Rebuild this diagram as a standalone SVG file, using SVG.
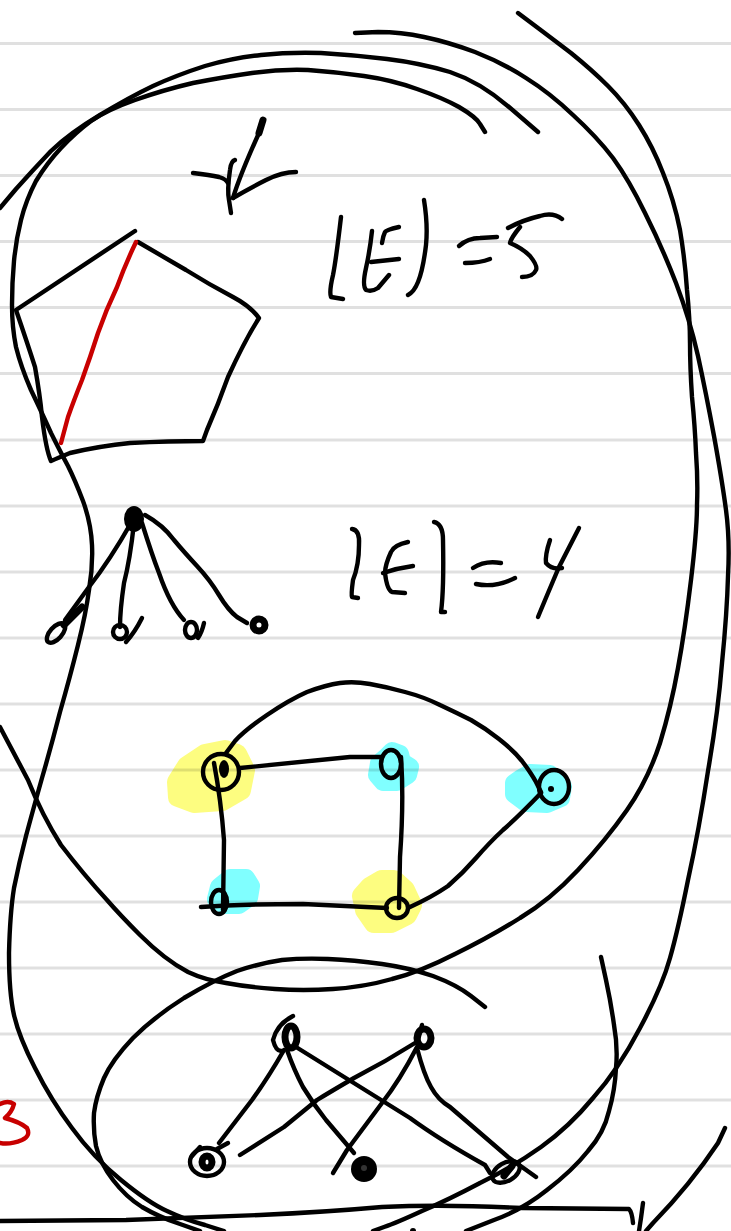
<svg xmlns="http://www.w3.org/2000/svg" width="731" height="1231" viewBox="0 0 731 1231">
<style>
.s{fill:none;stroke:#000;stroke-width:4.4;stroke-linecap:round;stroke-linejoin:round}
.t{stroke-width:7}
.r{fill:none;stroke:#c80000;stroke-width:4.4;stroke-linecap:round;stroke-linejoin:round}
.y{fill:#fdfd80;stroke:#fdfd80;stroke-width:20;stroke-linejoin:round}
.c{fill:#80ffff;stroke:#80ffff;stroke-width:18;stroke-linejoin:round}
.f{fill:#000}
.rule{stroke:#000;stroke-opacity:.12;stroke-width:3}
</style>
<rect width="731" height="1231" fill="#fff"/>
<g id="highlights">
<polygon class="y" points="225,750 237,754 245,770 241,790 222,801 194,803 178,797 177,782 187,766 205,754"/>
<polygon class="c" points="392,751 400,754 402,762 410,767 408,775 397,782 383,782 377,775 379,763 386,757"/>
<polygon class="c" points="530,773 550,774 563,786 561,798 547,804 526,803 514,794 514,783 521,778"/>
<polygon class="c" points="230,878 246,878 251,886 249,898 239,905 224,905 216,899 219,887"/>
<polygon class="y" points="382,880 394,880 405,890 412,905 407,915 391,923 374,923 365,910 362,896 370,887"/>
</g>
<g id="rules">
<path class="rule" d="M0 43.5H731M0 109.5H731M0 175.5H731M0 241.5H731M0 307.5H731M0 373.5H731M0 440H731M0 506H731M0 572H731M0 638H731M0 704H731M0 770H731M0 836H731M0 902H731M0 968H731M0 1034H731M0 1100H731M0 1166H731"/>
</g>
<g id="blobs">
<path class="s" d="M538 132 L509 107 Q480 82 450 72 Q420 63 387 59 Q354 55 321 53 Q289 52 261 55 Q233 58 205 66 Q177 75 153 86 Q130 97 100 115 Q70 133 51 151 Q33 170 16 189 L0 208"/>
<path class="s" d="M485 132 L480 124 Q476 117 459 107 Q443 98 417 89 Q392 80 364 76 Q336 72 308 70 Q280 69 252 73 Q224 77 193 83 Q163 90 135 100 Q107 110 91 121 Q75 133 61 148 Q47 163 36 181 Q26 200 21 220 Q16 240 14 261 Q12 283 12 305 Q12 327 16 347 Q21 367 31 390 Q42 413 51 433 Q61 453 68 466 Q75 480 83 501 Q91 523 92 545 Q93 567 89 590 Q86 613 78 645 Q70 677 60 712 Q51 747 42 778 Q33 810 26 836 Q19 863 14 888 Q10 913 9 953 Q9 993 14 1015 Q19 1037 35 1068 Q51 1100 72 1128 Q93 1157 121 1180 Q149 1203 167 1211 Q186 1220 205 1225 L224 1231"/>
<path class="s" d="M355 33 L378 32 Q401 32 424 37 Q448 42 475 52 Q503 63 526 78 Q550 93 573 115 Q597 137 613 158 Q629 180 645 213 Q662 247 676 283 Q690 320 698 356 Q706 393 714 436 Q722 480 726 510 Q730 540 728 576 Q727 613 722 663 Q718 713 708 771 Q699 830 688 880 Q678 930 670 958 Q662 987 640 1028 Q618 1070 593 1098 Q569 1127 541 1147 Q513 1167 480 1183 Q448 1200 422 1211 Q396 1223 384 1227 L373 1231"/>
<path class="s" d="M518 13 L534 25 Q550 37 571 53 Q592 70 608 86 Q625 103 639 125 Q653 147 663 173 Q674 200 680 230 Q685 260 687 290 Q690 320 690 343 Q690 367 692 397 Q695 427 696 453 Q698 480 697 505 Q697 530 691 580 Q685 630 678 668 Q671 707 660 743 Q648 780 627 810 Q606 840 578 870 Q550 900 520 918 Q490 937 455 954 Q420 972 392 979 Q364 987 333 989 Q303 991 275 989 Q247 987 226 983 Q205 980 188 972 Q165 960 140 935 Q120 915 107 900 Q84 875 61 845 Q42 815 28 780 L0 727"/>
<path class="s" d="M485 1007 L471 996 Q457 985 433 976 Q410 968 382 964 Q354 960 328 959 Q303 958 282 960 Q261 963 237 971 Q214 980 184 998 Q154 1017 133 1038 Q112 1060 104 1078 Q96 1097 94 1113 Q93 1130 96 1146 Q100 1163 113 1180 Q126 1197 142 1207 Q159 1217 180 1224 L200 1231"/>
<path class="s" d="M601 957 L606 980 Q611 1003 614 1025 Q618 1047 616 1068 Q615 1090 609 1111 Q604 1133 588 1151 Q573 1170 547 1190 Q522 1210 494 1220 L466 1231"/>
<path class="s" d="M0 1221 L126 1220 Q186 1218 260 1215 Q326 1212 382 1207 Q443 1204 522 1208 Q606 1209 629 1209 Q632 1212 633 1223"/>
<polyline class="s" points="643,1203 641,1218 639,1231"/>
<path class="s" d="M725 1128 L718 1143 Q690 1185 653 1223 L646 1231"/>
<circle class="f" cx="413" cy="1231" r="3"/>
</g>
<g id="pentagon">
<path class="s" d="M135 231 L16 310 Q28 345 35 367 Q40 395 42 417 Q46 450 51 461 Q58 458 70 453 Q100 446 130 443 Q170 441 203 441 L207 430 Q218 405 228 377 Q245 340 259 318 Q250 306 233 297 Q210 285 186 270 L138 242"/>
<path class="r" d="M136 242 Q125 265 117 287 Q106 310 98 333 Q90 358 82 380 Q74 400 68 417 L61 443"/>
</g>
<g id="vlabel">
<path class="s" d="M193 173 Q210 175 219 177 Q226 179 228 183"/>
<path class="s" d="M235 160 Q231 161 230 170 Q227 190 229 200 L231 213"/>
<path class="s t" d="M263 120 L259 133"/>
<path class="s" d="M263 120 Q260 125 259 133 Q240 175 233 198"/>
<path class="s" d="M233 198 Q250 188 266 180 Q282 172 296 172"/>
</g>
<g id="label-e5">
<path class="s" d="M341 217 Q336 260 333 275 Q329 292 331 297 L343 299"/>
<path class="s" d="M399 227 Q386 230 385 232 Q383 236 382 243"/>
<path class="s" d="M372 231 Q370 250 366 268 Q362 286 366 290 Q372 292 378 288 L389 275"/>
<path class="s" d="M371 262 L399 259"/>
<path class="s" d="M424 200 Q428 225 426 245 Q423 270 418 282 Q414 292 408 295"/>
<path class="s" d="M459 246 Q468 238 480 238 L497 237"/>
<path class="s" d="M465 263 Q480 263 490 259"/>
<path class="s" d="M562 219 Q553 212 540 216 Q523 220 508 228"/>
<path class="s" d="M520 227 Q511 238 510 243 Q522 248 530 256 Q538 266 536 270 Q533 277 522 277"/>
</g>
<g id="star">
<ellipse class="f" cx="134" cy="519" rx="10" ry="13"/>
<path class="s" d="M131 523 Q110 560 89 587 L65 620"/>
<path class="s t" d="M82 607 L64 625"/>
<ellipse class="s" cx="56" cy="633" rx="6" ry="12" transform="rotate(42 56 633)"/>
<path class="s" d="M134 523 Q130 560 124 583 Q120 610 120 627"/>
<circle class="s" cx="120" cy="632" r="7"/>
<path class="s" d="M142 618 Q135 632 126 642"/>
<path class="s" d="M142 523 Q152 555 159 573 Q170 605 184 620"/>
<ellipse class="s" cx="191" cy="630" rx="6" ry="8"/>
<path class="s" d="M204 623 Q202 632 198 638"/>
<path class="s" d="M145 515 Q163 525 174 540 Q184 552 197 566 Q210 580 219 595 Q228 610 237 617 L247 623"/>
<circle class="s t" cx="259" cy="625" r="6"/>
</g>
<g id="label-e4">
<path class="s" d="M352 529 Q360 530 359 545 Q359 565 353 580 Q351 595 352 597 L358 598"/>
<path class="s" d="M408 542 Q394 545 391 552 Q385 565 385 573 Q387 590 392 592 L405 593"/>
<path class="s" d="M383 573 Q398 568 413 566"/>
<path class="s" d="M434 522 Q443 524 443 540 Q444 590 441 612 L445 612"/>
<path class="s" d="M473 568 Q485 560 501 563"/>
<path class="s" d="M476 584 Q495 588 515 578"/>
<path class="s" d="M550 540 Q545 555 546 563 Q552 570 562 568"/>
<path class="s" d="M579 528 L559 567 Q545 600 538 617"/>
</g>
<g id="graph-c5-edges">
<path class="s" d="M226 753 L235 741 Q245 730 267 715 Q289 700 307 692 Q326 685 340 683 Q354 681 370 684 Q387 687 405 692 Q424 697 440 705 Q457 713 471 720 Q485 728 499 739 Q513 750 522 761 Q531 773 536 782 L541 792"/>
<path class="s" d="M240 768 Q298 762 350 757 L382 757"/>
<path class="s" d="M214 763 Q221 800 224 840 L223 910"/>
<path class="s" d="M401 757 Q404 800 400 857 L399 908"/>
<path class="s" d="M201 907 Q242 904 303 904 L387 908"/>
<path class="s" d="M410 907 Q432 897 448 886 Q463 873 476 858 Q490 842 503 830 Q520 815 541 793"/>
</g>
<g id="n1"><circle class="s" cx="221" cy="772" r="18"/><ellipse class="f" cx="224" cy="769" rx="5" ry="9"/></g>
<g id="n2"><ellipse class="s" cx="391" cy="764" rx="10" ry="14"/></g>
<g id="n3"><ellipse class="s" cx="554" cy="787" rx="15" ry="17"/><circle class="f" cx="551" cy="789" r="3"/></g>
<g id="n4"><ellipse class="s" cx="219" cy="902" rx="8" ry="12"/></g>
<g id="n5"><ellipse class="s" cx="397" cy="908" rx="11" ry="10"/></g>
<g id="bipartite-edges">
<path class="s" d="M284 1050 Q268 1078 252 1100 L219 1143"/>
<path class="s" d="M228 1143 L217 1149"/>
<path class="s" d="M287 1050 Q294 1070 303 1087 Q314 1105 326 1120 L354 1153"/>
<path class="s" d="M296 1047 Q354 1083 410 1118 Q440 1140 485 1165 L490 1173"/>
<path class="s" d="M415 1043 Q385 1062 354 1078 Q330 1092 317 1100 Q300 1114 284 1127 L240 1155"/>
<path class="s" d="M417 1047 Q400 1080 382 1103 L347 1150 L333 1173"/>
<path class="s" d="M417 1048 Q424 1075 431 1087 Q438 1100 450 1107 L508 1157 L536 1177"/>
</g>
<g id="t1"><path class="s" d="M293 1016 Q277 1024 273 1040 Q276 1052 282 1051"/><ellipse class="s t" cx="291" cy="1037" rx="6" ry="11"/></g>
<g id="t2"><path class="s" d="M422 1025 L418 1040"/><ellipse class="s t" cx="424" cy="1038" rx="7" ry="9"/></g>
<g id="b1"><ellipse class="s" cx="207" cy="1162" rx="17" ry="14"/><ellipse class="s t" cx="207" cy="1162" rx="5" ry="6"/><path class="s" d="M200 1147 L192 1156"/></g>
<g id="b2"><circle class="f" cx="364" cy="1169" r="13"/><circle cx="364" cy="1168" r="3" fill="#333"/></g>
<g id="b3"><ellipse class="s" cx="506" cy="1172" rx="15" ry="9" transform="rotate(-30 506 1172)"/><path class="s t" d="M504 1176 L512 1166"/></g>
<g id="margin-3"><path class="r" d="M0 1104 Q8 1100 14 1104 Q12 1112 5 1118 Q20 1122 27 1128 Q31 1136 22 1140 Q10 1145 0 1143"/></g>
</svg>
